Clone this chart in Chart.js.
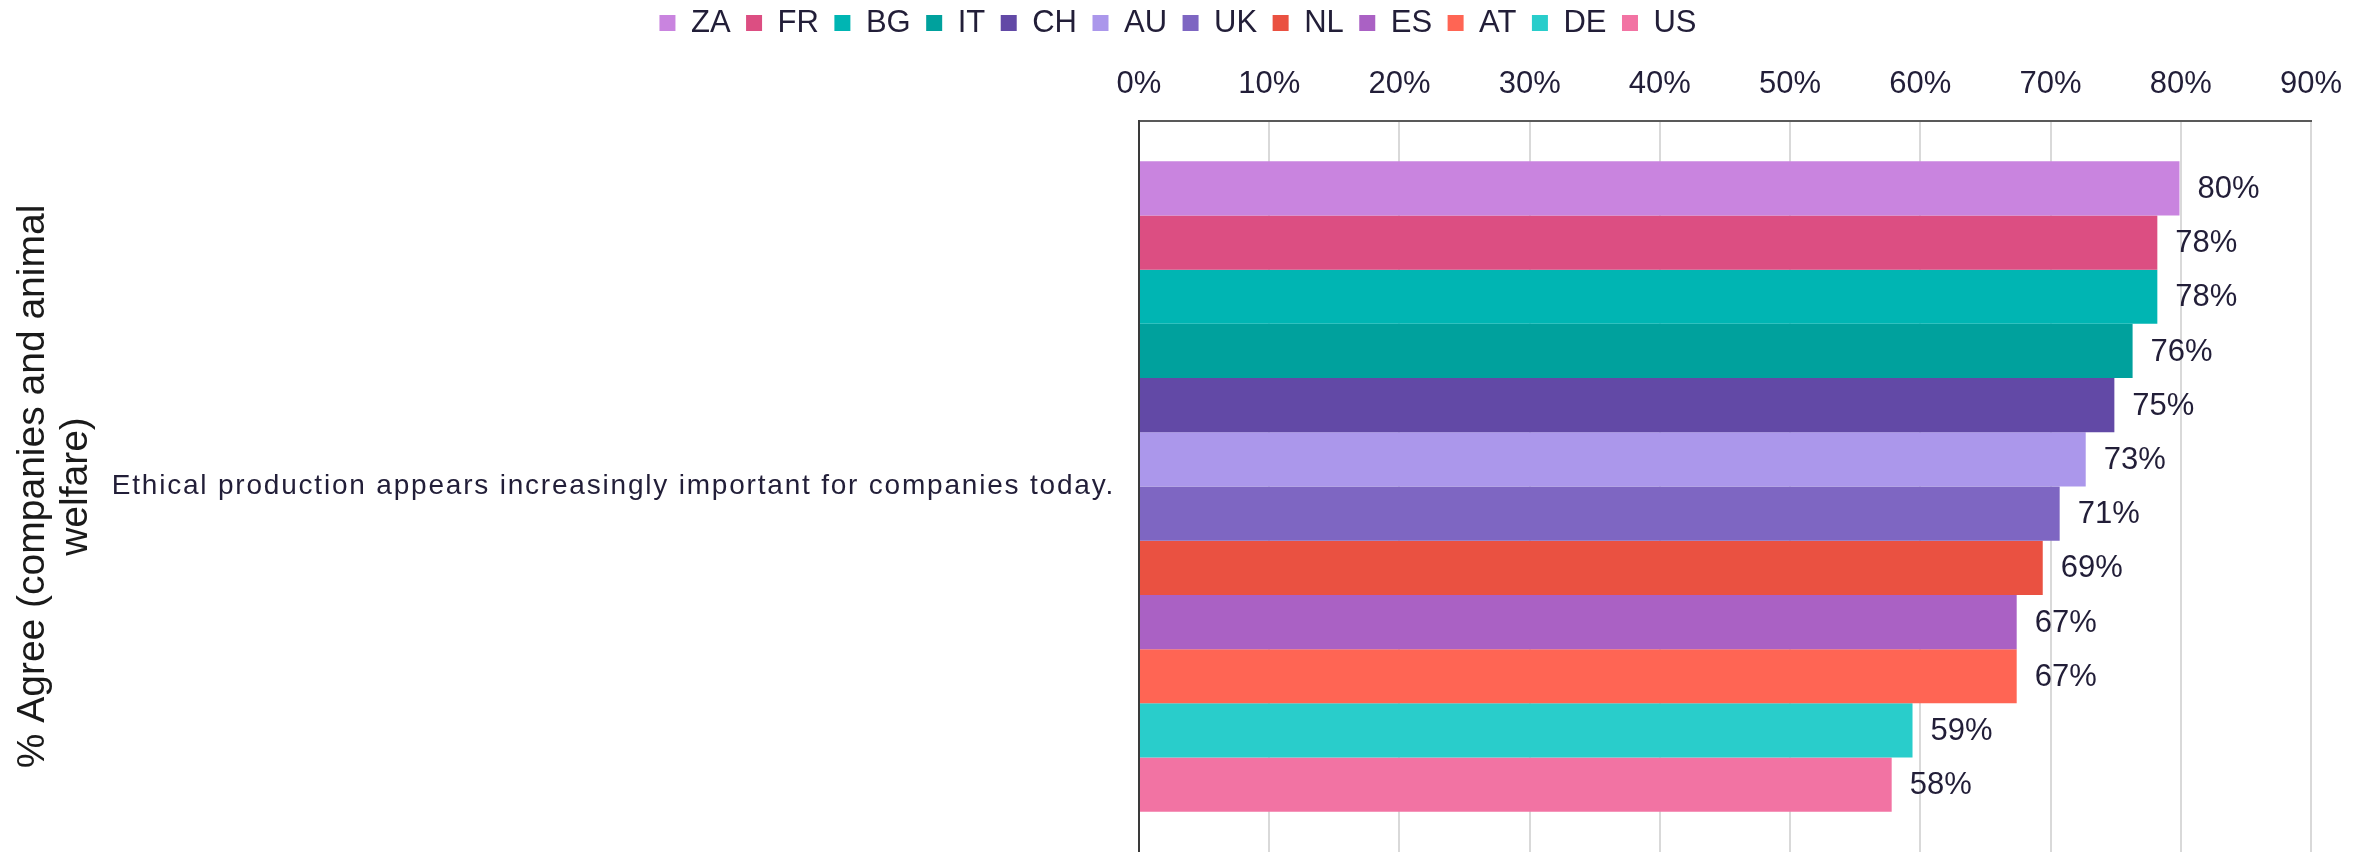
<!DOCTYPE html>
<html>
<head>
<meta charset="utf-8">
<script src="https://cdn.jsdelivr.net/npm/chart.js@4"></script>
<style>
  html, body { margin: 0; padding: 0; background: #fff; }
  #wrap { width: 2374px; height: 852px; }
</style>
</head>
<body>
<div id="wrap"><canvas id="agreeChart" width="2374" height="852"></canvas></div>
<script>
// Share agreeing with the statement, by country (%)
const statement = ['Ethical production appears increasingly important for companies today.'];
const countries = ['ZA', 'FR', 'BG', 'IT', 'CH', 'AU', 'UK', 'NL', 'ES', 'AT', 'DE', 'US'];
const agreePct = [79.9, 78.2, 78.2, 76.3, 74.9, 72.7, 70.7, 69.4, 67.4, 67.4, 59.4, 57.8];
const countryColors = ['#c984df', '#dc4e82', '#00b5b3', '#00a19d', '#6249a6', '#ab97eb',
                       '#7e66c2', '#ea5141', '#aa61c4', '#ff6554', '#29cdcb', '#f273a3'];
const xTicks = [0, 10, 20, 30, 40, 50, 60, 70, 80, 90];
const axisTitle = ['% Agree (companies and animal', 'welfare)'];

const FONT = '"Liberation Sans", Arial, sans-serif';
const TEXT = '#221e38';

// value labels right of each bar; also turns on letter spacing for the
// category label, which is drawn after the datasets (ticks z: 1)
const valueLabels = {
  id: 'valueLabels',
  afterDatasetsDraw(chart) {
    const ctx = chart.ctx;
    ctx.save();
    ctx.font = '31px ' + FONT;
    ctx.fillStyle = TEXT;
    ctx.textAlign = 'left';
    ctx.textBaseline = 'middle';
    chart.data.datasets.forEach((ds, i) => {
      const bar = chart.getDatasetMeta(i).data[0];
      ctx.fillText(Math.round(ds.data[0]) + '%', bar.x + 18, bar.y + 1);
    });
    ctx.restore();
    ctx.letterSpacing = '1.8px';
  },
  afterDraw(chart) {
    chart.ctx.letterSpacing = '0px';
  }
};

new Chart(document.getElementById('agreeChart'), {
  type: 'bar',
  data: {
    labels: statement,
    datasets: countries.map((c, i) => ({
      label: c,
      data: [agreePct[i]],
      backgroundColor: countryColors[i],
      borderWidth: 0,
      barPercentage: 1,
      categoryPercentage: 0.89,
    }))
  },
  options: {
    indexAxis: 'y',
    responsive: false,
    animation: false,
    devicePixelRatio: 1,
    layout: { padding: { top: -8, right: 63, bottom: 0, left: 45 } },
    plugins: {
      legend: {
        position: 'top',
        labels: { boxWidth: 16, boxHeight: 16, padding: 15.5, color: TEXT, font: { family: FONT, size: 31 } }
      },
      tooltip: { enabled: false }
    },
    scales: {
      x: {
        position: 'top',
        min: 0,
        max: 90,
        afterBuildTicks: (s) => { s.ticks = xTicks.map(v => ({ value: v })); },
        afterFit: (s) => { s.height = 72.5; },
        grid: { color: '#d9d9d9', lineWidth: 2, drawTicks: false },
        border: { color: '#595959', width: 2 },
        ticks: { padding: 18, color: TEXT, font: { family: FONT, size: 31 }, callback: v => v + '%' }
      },
      y: {
        afterFit: (s) => { s.width = 1094; s.paddingTop = 0; s.paddingBottom = 0; },
        grid: { display: false, drawTicks: true, tickLength: 24 },
        border: { color: '#3a3a3a', width: 2 },
        ticks: { z: 1, padding: 0, color: TEXT, font: { family: FONT, size: 28 } },
        title: {
          display: true,
          text: axisTitle,
          color: '#1a1a1a',
          padding: { top: -33.5, bottom: 0 },
          font: { family: FONT, size: 39, lineHeight: 1.1 }
        }
      }
    }
  },
  plugins: [valueLabels]
});
</script>
</body>
</html>
